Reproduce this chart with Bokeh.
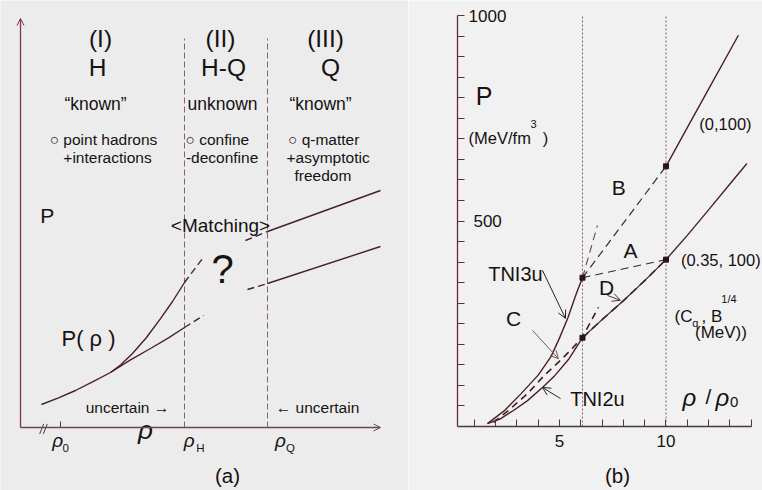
from bokeh.plotting import figure
from bokeh.layouts import row
from bokeh.models import Range1d, FixedTicker, Arrow, OpenHead, LinearAxis
from bokeh.core.properties import value
from bokeh.embed import file_html
from bokeh.resources import INLINE

FONT = "Liberation Sans"
INK = "#161212"
CURVE = "#4a2024"
AXIS_A = "#7a3a40"
VLINE = "#8a6070"

# ---------------- panel (a): schematic values (arbitrary units) ----------------
rho_0, rho_H, rho_Q = 1.0, 4.1, 6.175
axis_a_xmax, axis_a_ymax = 9.0, 10.225

common_x = [0.525, 0.95, 1.375, 1.8, 2.25]
common_y = [0.575, 0.74, 0.925, 1.14, 1.375]
h_low_x = [2.25, 2.75, 3.25, 3.7, 4.1]
h_low_y = [1.375, 1.69, 1.975, 2.24, 2.5]
h_up_x = [2.25, 2.5, 2.8, 3.15, 3.5, 3.8, 4.1]
h_up_y = [1.375, 1.56, 1.85, 2.25, 2.72, 3.15, 3.625]
h_low_ext_x = [4.1, 4.575]
h_low_ext_y = [2.5, 2.8]
h_up_ext_x = [4.1, 4.55]
h_up_ext_y = [3.625, 4.225]
q_up_ext_x = [5.625, 6.175]
q_up_ext_y = [4.675, 4.9]
q_up_x = [6.175, 9.0]
q_up_y = [4.9, 5.925]
q_low_ext_x = [5.675, 6.175]
q_low_ext_y = [3.45, 3.6]
q_low_x = [6.175, 9.0]
q_low_y = [3.6, 4.525]

# ---------------- panel (b): P (MeV/fm^3) vs rho/rho0 ----------------
tni3u_x = [1.62, 2.4, 3.2, 4.0, 4.6, 5.0, 5.4, 5.8, 6.08]
tni3u_y = [7, 38, 80, 125, 170, 215, 265, 325, 362]
tni2u_x = [1.62, 2.2, 2.84, 3.5, 4.2, 4.8, 5.42, 6.08]
tni2u_y = [7, 18, 39, 63, 95, 125, 163, 216]
d_x = [6.08, 7.0, 8.0, 9.0, 10.0]
d_y = [216, 260, 306, 355, 406]
q035_x = [10.0, 11.0, 12.0, 13.0, 13.8]
q035_y = [406, 465, 527, 590, 640]
q0_x = [10.0, 11.0, 12.0, 13.4]
q0_y = [633, 727, 821, 952]
a_x = [6.08, 10.0]
a_y = [362, 406]
b_x = [6.08, 10.0]
b_y = [362, 633]
steep_x = [6.08, 6.78]
steep_y = [362, 489]
c_x = [1.9, 2.6, 3.5, 4.3, 5.05, 5.6, 6.08, 6.83]
c_y = [10, 39, 80, 125, 161, 190, 218, 290]
dots_x = [6.08, 6.08, 10.0, 10.0]
dots_y = [362, 216, 633, 406]
y_major = [500, 1000]
y_minor = [50 * i for i in range(1, 20) if i != 10]
x_major = [5, 10]
x_minor = [1, 2, 3, 4, 6, 7, 8, 9, 11, 12, 13, 14]
phase_x = [6.08, 10.0]
x_axis_start, x_axis_end = 0.21, 14.0


def txt(p, x, y, s, size, align="center", baseline="middle", style="normal", color=INK):
    p.text(x=[x], y=[y], text=[s], text_font=value(FONT), text_font_size=f"{size}px",
           text_align=align, text_baseline=baseline, text_font_style=style, text_color=color)


# ================= panel (a) =================
pa = figure(width=408, height=490, x_range=Range1d(-0.5, 9.7), y_range=Range1d(-1.575, 10.675),
            x_axis_type=None, y_axis_type=None, toolbar_location=None, output_backend="svg",
            min_border=0, background_fill_color="#ececec", border_fill_color="#ececec")
pa.outline_line_color = None
pa.grid.visible = False

pa.add_layout(Arrow(end=OpenHead(size=7, line_color=AXIS_A, line_width=1), x_start=0, y_start=0,
                    x_end=0, y_end=axis_a_ymax, line_color=AXIS_A, line_width=1.3))
pa.add_layout(Arrow(end=OpenHead(size=7, line_color="#6a4a4a", line_width=1), x_start=0, y_start=0,
                    x_end=axis_a_xmax, y_end=0, line_color="#6a4a4a", line_width=1.3))
pa.segment(x0=[0.48, 0.57], y0=[-0.16, -0.16], x1=[0.58, 0.67], y1=[0.09, 0.09],
           line_color="#4a3a3a", line_width=1)
pa.segment(x0=[rho_0], y0=[0], x1=[rho_0], y1=[0.15], line_color="#4a3a3a", line_width=1)
pa.segment(x0=[rho_H, rho_Q], y0=[0, 0], x1=[rho_H, rho_Q], y1=[9.725, 9.725],
           line_color=VLINE, line_width=1, line_dash="6 3")

for xs, ys in [(common_x, common_y), (h_low_x, h_low_y), (h_up_x, h_up_y), (q_up_x, q_up_y), (q_low_x, q_low_y)]:
    pa.line(xs, ys, line_color=CURVE, line_width=1.4)
for xs, ys in [(h_low_ext_x, h_low_ext_y), (h_up_ext_x, h_up_ext_y), (q_up_ext_x, q_up_ext_y), (q_low_ext_x, q_low_ext_y)]:
    pa.line(xs, ys, line_color=CURVE, line_width=1.4, line_dash="7 4")

txt(pa, 2.0, 9.725, "(I)", 24.5)
txt(pa, 1.925, 9.0, "H", 24.5)
txt(pa, 5.0, 9.725, "(II)", 24.5)
txt(pa, 5.075, 9.0, "H-Q", 24.5)
txt(pa, 7.625, 9.725, "(III)", 24.5)
txt(pa, 7.75, 9.0, "Q", 24.5)
txt(pa, 1.875, 8.1, "\u201cknown\u201d", 17.5)
txt(pa, 5.05, 8.1, "unknown", 17.5)
txt(pa, 7.5, 8.1, "\u201cknown\u201d", 17.5)
txt(pa, 2.075, 7.2, "\u25cb point hadrons", 15.5)
txt(pa, 2.175, 6.75, "+interactions", 15.5)
txt(pa, 4.92, 7.2, "\u25cb confine", 15.5)
txt(pa, 5.04, 6.75, "-deconfine", 15.5)
txt(pa, 7.58, 7.2, "\u25cb q-matter", 15.5)
txt(pa, 7.69, 6.75, "+asymptotic", 15.5)
txt(pa, 7.56, 6.3, "freedom", 15.5)
txt(pa, 0.667, 5.3, "P", 21)
txt(pa, 5.0, 5.05, "<Matching>", 19)
txt(pa, 5.05, 3.975, "?", 40)
txt(pa, 1.7, 2.225, "P( \u03c1 )", 22)
txt(pa, 2.675, 0.5, "uncertain \u2192", 15.5)
txt(pa, 7.425, 0.5, "\u2190 uncertain", 15.5)
txt(pa, 3.125, -0.05, "\u03c1", 26, style="italic")
for xr, sub, xs in [(0.93, "0", 1.13), (4.22, "H", 4.5), (6.5, "Q", 6.75)]:
    txt(pa, xr, -0.32, "\u03c1", 19, style="italic")
    txt(pa, xs, -0.5, sub, 11.5)
txt(pa, 5.175, -1.2, "(a)", 20.5)

# ================= panel (b) =================
pb = figure(width=354, height=490, x_range=Range1d(-2.089, 14.531), y_range=Range1d(-155.7, 1036.5),
            x_axis_type=None, y_axis_type=None, toolbar_location=None, output_backend="svg",
            min_border=0, background_fill_color="#f1f1f1", border_fill_color="#f1f1f1")
pb.outline_line_color = None
pb.grid.visible = False

yax = LinearAxis(fixed_location=x_axis_start, bounds=(0, 1000),
                 ticker=FixedTicker(ticks=y_major, minor_ticks=y_minor))
xax = LinearAxis(fixed_location=0, bounds=(x_axis_start, x_axis_end),
                 ticker=FixedTicker(ticks=x_major, minor_ticks=x_minor))
for ax, col in [(yax, "#6a2a3a"), (xax, "#4a3a3a")]:
    ax.axis_line_color = col
    ax.axis_line_width = 1.3
    ax.major_tick_line_color = col
    ax.minor_tick_line_color = col
    ax.major_tick_in = 7
    ax.major_tick_out = 0
    ax.minor_tick_in = 7
    ax.minor_tick_out = 0
yax.major_label_text_color = None
xax.major_label_text_font = FONT
xax.major_label_text_font_size = "17px"
xax.major_label_text_color = INK
xax.major_label_standoff = 8
pb.add_layout(yax, "left")
pb.add_layout(xax, "below")

pb.segment(x0=phase_x, y0=[0, 0], x1=phase_x, y1=[1000, 1000], line_color=VLINE,
           line_width=1, line_dash="2 2")
pb.line(tni3u_x, tni3u_y, line_color=CURVE, line_width=1.4)
pb.line(tni2u_x, tni2u_y, line_color=CURVE, line_width=1.4)
pb.line(d_x, d_y, line_color=CURVE, line_width=1.2)
pb.line(d_x, d_y, line_color="#3a2020", line_width=1.6, line_dash="8 5")
pb.line(q035_x, q035_y, line_color=CURVE, line_width=1.4)
pb.line(q0_x, q0_y, line_color=CURVE, line_width=1.4)
pb.line(a_x, a_y, line_color="#3a2a2a", line_width=1.2, line_dash="8 5")
pb.line(b_x, b_y, line_color="#3a2a2a", line_width=1.2, line_dash="8 5")
pb.line(steep_x, steep_y, line_color="#5a4a4a", line_width=1.1, line_dash="8 5")
pb.line(c_x, c_y, line_color="#3a2020", line_width=1.6, line_dash="7 5")
pb.scatter(dots_x, dots_y, size=5, color="#2a1616", marker="square")

for (x0, y0, x1, y1, col) in [(4.2, 380, 5.28, 263, "#2a2222"), (3.73, 234, 4.95, 165, "#7a5a5a"),
                              (5.05, 68, 4.2, 95, "#2a2222"), (7.25, 319, 7.86, 307, "#4a3a3a")]:
    pb.add_layout(Arrow(end=OpenHead(size=8, line_color=col, line_width=1), x_start=x0, y_start=y0,
                        x_end=x1, y_end=y1, line_color=col, line_width=1))

txt(pb, 0.73, 1000, "1000", 17, align="left")
txt(pb, 0.96, 500, "500", 17, align="left")
txt(pb, 1.455, 803, "P", 25)
txt(pb, 0.73, 703, "(MeV/fm", 16.5, align="left")
txt(pb, 3.78, 735, "3", 11)
txt(pb, 4.34, 703, ")", 16.5)
txt(pb, 7.78, 582, "B", 21)
txt(pb, 8.33, 428, "A", 21)
txt(pb, 12.79, 737, "(0,100)", 16.5)
txt(pb, 10.7, 404, "(0.35, 100)", 16.5, align="left")
txt(pb, 2.93, 372, "TNI3u", 20)
txt(pb, 2.84, 263, "C", 21)
txt(pb, 7.21, 338, "D", 21)
txt(pb, 10.4, 268, "(C", 17, align="left")
txt(pb, 11.38, 252, "q", 11)
txt(pb, 11.67, 268, ", B", 17, align="left")
txt(pb, 12.6, 311, "1/4", 11, align="left")
txt(pb, 12.58, 229, "(MeV))", 17)
txt(pb, 6.78, 68, "TNI2u", 20)
txt(pb, 11.1, 70, "\u03c1", 24, style="italic")
txt(pb, 11.99, 72, "/", 21)
txt(pb, 12.65, 70, "\u03c1", 24, style="italic")
txt(pb, 13.2, 60, "0", 15)
txt(pb, 7.72, -119, "(b)", 20.5)

layout = row(pa, pb, spacing=0)
open("out.html", "w").write(file_html(layout, INLINE))
